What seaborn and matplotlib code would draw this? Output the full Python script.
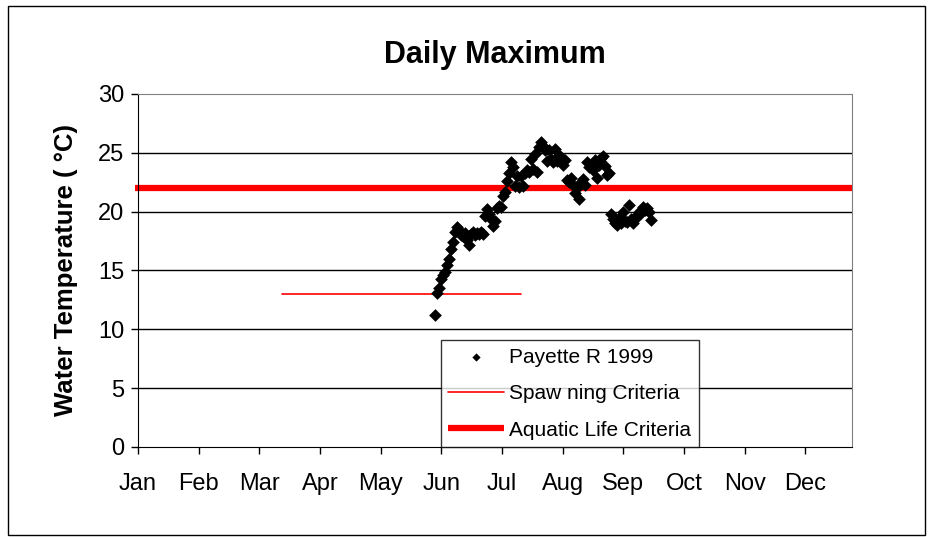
import matplotlib
matplotlib.use('Agg')
import matplotlib.pyplot as plt
import seaborn as sns
import pandas as pd
from matplotlib.patches import Rectangle

# Daily maximum water temperature, Payette R 1999 (day of year, Jan 1 = 0)
days = list(range(149, 258))
temps = [11.2, 13.1, 13.5, 14.3, 14.6, 14.9, 15.5, 16.0, 16.8, 17.4,
         18.3, 18.7, 18.4, 18.0, 17.9, 18.2, 17.6, 17.2, 18.1, 18.3,
         18.0, 18.2, 18.1, 18.3, 18.1, 19.6, 20.2, 19.8, 19.4, 18.8,
         19.2, 20.3, 20.5, 20.4, 21.3, 21.7, 22.6, 23.3, 24.2, 23.8,
         22.2, 23.0, 22.1, 23.0, 22.2, 23.3, 23.5, 23.4, 24.5, 23.6,
         24.9, 23.4, 25.5, 25.9, 25.6, 25.2, 24.3, 25.2, 24.5, 24.2,
         25.3, 24.3, 24.8, 24.2, 24.0, 24.4, 22.7, 22.5, 22.9, 22.3,
         21.6, 22.0, 21.1, 22.5, 22.8, 22.3, 24.2, 23.8, 24.0, 23.5,
         24.4, 22.9, 24.0, 24.6, 24.7, 23.9, 23.1, 23.3, 19.8, 19.4,
         19.0, 18.9, 19.5, 19.0, 20.0, 19.2, 19.1, 20.6, 19.4, 19.0,
         19.4, 19.7, 20.0, 19.9, 20.4, 20.1, 20.3, 20.0, 19.3]

# criteria lines
spawn_days = [72, 192]
spawn_temp = [13, 13]
aquatic_days = [-1.5, 358]
aquatic_temp = [22, 22]

months = ['Jan', 'Feb', 'Mar', 'Apr', 'May', 'Jun',
          'Jul', 'Aug', 'Sep', 'Oct', 'Nov', 'Dec']
month_ticks = [i * 365 / 12 for i in range(12)]

sns.set_style('white')
plt.rcParams['font.family'] = ['Liberation Sans', 'DejaVu Sans']
plt.rcParams['text.color'] = 'black'
plt.rcParams['axes.labelcolor'] = 'black'

df = pd.DataFrame({'day': days, 'temp': temps})

fig = plt.figure(figsize=(9.33, 5.37), dpi=100)
ax = fig.add_axes([0.1479, 0.1676, 0.7653, 0.6574])

for y in [5, 10, 15, 20, 25]:
    ax.axhline(y, color='black', lw=1, zorder=0)

sns.lineplot(x=aquatic_days, y=aquatic_temp, color='#ff0000', lw=4.5,
             ax=ax, label='Aquatic Life Criteria', zorder=2)
ax.lines[-1].set_clip_on(False)
ax.lines[-1].set_solid_capstyle('butt')
sns.lineplot(x=spawn_days, y=spawn_temp, color='#ff0000', lw=1.2,
             ax=ax, label='Spaw ning Criteria', zorder=2)
sns.scatterplot(data=df, x='day', y='temp', marker='D', color='black',
                s=42, edgecolor='black', linewidth=0, ax=ax,
                label='Payette R 1999', zorder=3)

ax.set_xlim(0, 358)
ax.set_ylim(0, 30)
ax.set_xticks(month_ticks)
ax.set_xticklabels(months)
ax.set_yticks(range(0, 31, 5))
ax.tick_params(axis='both', labelsize=17, colors='black', direction='out',
               length=5, width=1, bottom=True, left=True)
ax.tick_params(axis='x', pad=14)
ax.tick_params(axis='y', pad=5)
ax.set_xlabel('')
ax.set_ylabel('Water Temperature ( °C)', fontsize=18.5, fontweight='bold',
              labelpad=14)
ax.set_title('Daily Maximum', fontsize=22, fontweight='bold', pad=22)

ax.spines['left'].set_color('black')
ax.spines['bottom'].set_color('black')
ax.spines['top'].set_color('#808080')
ax.spines['right'].set_color('#808080')

handles, labels = ax.get_legend_handles_labels()
order = [2, 1, 0]
leg = ax.legend([handles[i] for i in order], [labels[i] for i in order],
                loc='lower left', bbox_to_anchor=(0.424, 0.0),
                borderaxespad=0, fontsize=15, frameon=True, fancybox=False,
                edgecolor='black', handlelength=2.7, handletextpad=0.25,
                labelspacing=0.84, borderpad=0.35, markerscale=0.65)
leg.get_frame().set_linewidth(1)

fig.patches.append(Rectangle((8 / 933, 2 / 537), 917 / 933, 529 / 537,
                             transform=fig.transFigure, fill=False,
                             edgecolor='black', lw=1))

fig.savefig('out.png', dpi=100)
